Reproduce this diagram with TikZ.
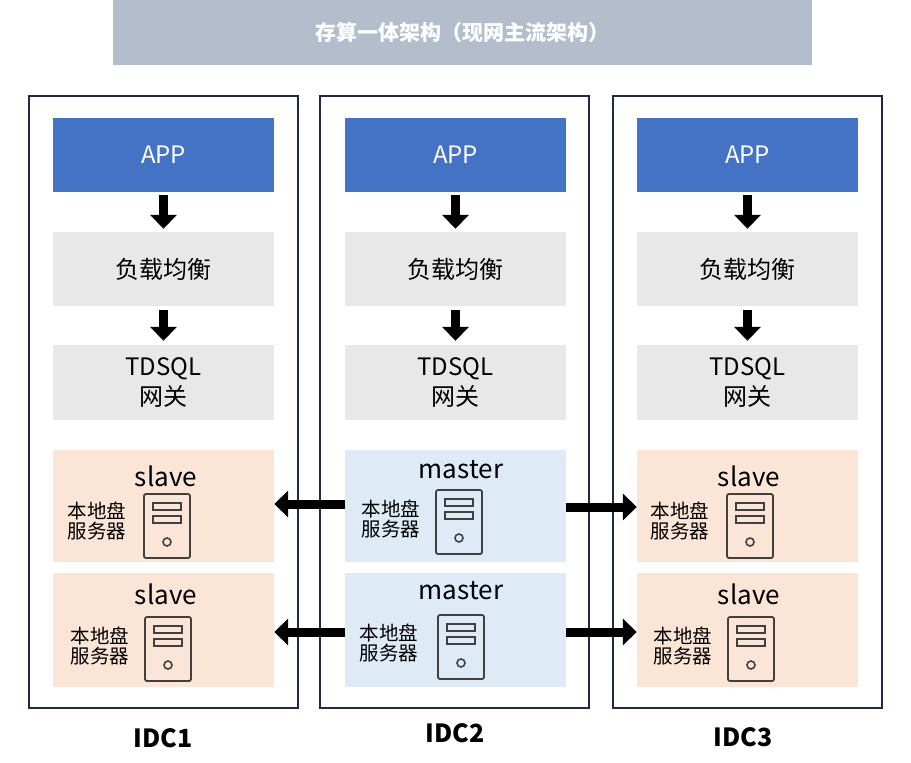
\documentclass[tikz,border=0pt]{standalone}
\usepackage{fontspec}
\setmainfont{Noto Sans CJK SC}
\usetikzlibrary{arrows.meta}
\definecolor{titlebg}{HTML}{B4BDCB}
\definecolor{navy}{HTML}{1F2A4A}
\definecolor{appblue}{HTML}{4472C4}
\definecolor{lgray}{HTML}{E8E8E8}
\definecolor{peach}{HTML}{FBE5D6}
\definecolor{lblue}{HTML}{DEEBF7}
\definecolor{icon}{HTML}{404040}
\newcommand{\bx}[7]{\node[#6,minimum width={(#4-#2)*1pt},minimum height={(#5-#3)*1pt},inner sep=0pt] (#1) at ({(#2+#4)/2*1pt},{-(#3+#5)/2*1pt}) {#7};}
\tikzset{
  idc/.style={draw=navy,line width=1.3pt},
  app/.style={fill=appblue,text=white,font=\fontsize{24}{28}\selectfont},
  grey/.style={fill=lgray,font=\fontsize{24}{28}\selectfont,align=center},
  sl/.style={fill=peach},
  ms/.style={fill=lblue},
  blk/.style={line width=9pt,-{Triangle[width=26pt,length=14pt]}},
  lbl/.style={font=\fontsize{26}{30}\selectfont},
  sub/.style={font=\fontsize{19.5}{23}\selectfont,align=left,inner sep=0pt},
  idclbl/.style={font=\bfseries\fontsize{25}{28}\selectfont}
}
\newcommand{\server}[3]{% name, cx, top y
  \draw[icon,line width=1.8pt,rounded corners=2pt] ({#2*1pt-23pt},{-#3*1pt}) rectangle ({#2*1pt+23pt},{-#3*1pt-64pt});
  \draw[icon,line width=1.8pt] ({#2*1pt-14pt},{-#3*1pt-9pt}) rectangle ({#2*1pt+14pt},{-#3*1pt-16pt});
  \draw[icon,line width=1.8pt] ({#2*1pt-14pt},{-#3*1pt-22pt}) rectangle ({#2*1pt+14pt},{-#3*1pt-29pt});
  \draw[icon,line width=1.6pt] ({#2*1pt},{-#3*1pt-48pt}) circle (4pt);
  \coordinate (#1) at ({#2*1pt},{-#3*1pt});
}
\begin{document}
\begin{tikzpicture}
\useasboundingbox[fill=white] (0,0) rectangle (911pt,-763pt);
\bx{title}{113}{0}{812}{65}{fill=titlebg,text=white,font=\bfseries\fontsize{21}{24}\selectfont}{存算一体架构（现网主流架构）}
\foreach \i/\x in {1/29,2/320,3/613}{
  \bx{idc\i}{\x}{96}{\x+269}{708}{idc}{}
}
\foreach \i/\x in {1/53,2/345,3/637}{
  \bx{app\i}{\x}{118}{\x+221}{192}{app}{APP}
  \bx{lb\i}{\x}{232}{\x+221}{306}{grey}{负载均衡}
  \bx{gw\i}{\x}{345}{\x+221}{420}{grey}{TDSQL\\[2pt]网关}
  \draw[blk,shorten <=3pt,shorten >=3pt] (app\i.south) -- (lb\i.north);
  \draw[blk,shorten <=4pt,shorten >=4pt] (lb\i.south) -- (gw\i.north);
}
% storage boxes
\foreach \i/\x/\s/\w in {1/53/sl/slave,2/345/ms/master,3/637/sl/slave}{
  \bx{a\i}{\x}{450}{\x+221}{562}{\s}{}
  \bx{b\i}{\x}{573}{\x+221}{687}{\s}{}
}
% texts
\node[lbl] (t1a) at (166pt,-476pt) {slave};
\node[lbl] (t1b) at (166pt,-594pt) {slave};
\node[lbl] (t2a) at (461pt,-470pt) {master};
\node[lbl] (t2b) at (461pt,-591pt) {master};
\node[lbl] (t3a) at (749pt,-476pt) {slave};
\node[lbl] (t3b) at (749pt,-594pt) {slave};
\node[sub] (s1a) at (97pt,-521pt) {本地盘\\[-3pt]服务器};
\node[sub] (s1b) at (100pt,-646pt) {本地盘\\[-3pt]服务器};
\node[sub] (s2a) at (391pt,-519pt) {本地盘\\[-3pt]服务器};
\node[sub] (s2b) at (389pt,-643pt) {本地盘\\[-3pt]服务器};
\node[sub] (s3a) at (680pt,-521pt) {本地盘\\[-3pt]服务器};
\node[sub] (s3b) at (683pt,-646pt) {本地盘\\[-3pt]服务器};
\server{v1a}{167}{494}
\server{v1b}{168}{617}
\server{v2a}{459}{490}
\server{v2b}{461}{615}
\server{v3a}{750}{494}
\server{v3b}{751}{617}
% horizontal arrows
\draw[blk] ([yshift=2pt]a2.west) -- ([yshift=2pt]a1.east);
\draw[blk] ([yshift=-1pt]a2.east) -- ([yshift=-1pt]a3.west);
\draw[blk] ([yshift=-2pt]b2.west) -- ([yshift=-2pt]b1.east);
\draw[blk] ([yshift=-2pt]b2.east) -- ([yshift=-2pt]b3.west);
\node[idclbl] (l1) at (163pt,-738pt) {IDC1};
\node[idclbl] (l2) at (455pt,-733pt) {IDC2};
\node[idclbl] (l3) at (743pt,-737pt) {IDC3};
\end{tikzpicture}
\end{document}
